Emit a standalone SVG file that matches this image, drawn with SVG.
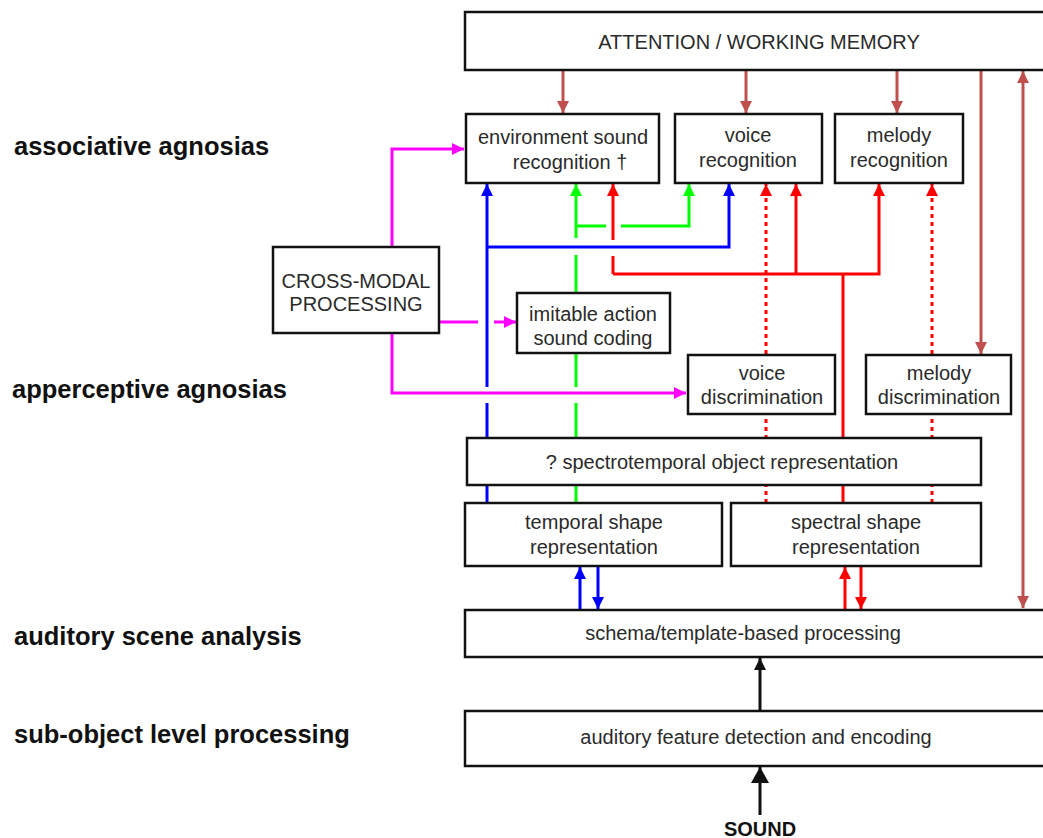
<svg xmlns="http://www.w3.org/2000/svg" width="1043" height="838" viewBox="0 0 1043 838">
<style>
.box{fill:#fff;stroke:#111;stroke-width:2.5}
.t{font-family:"Liberation Sans",Arial,sans-serif;font-size:20px;fill:#2a2a2a;text-anchor:middle}
.lbl{font-family:"Liberation Sans",Arial,sans-serif;font-size:25.5px;font-weight:bold;fill:#111}
.c{fill:none;stroke-width:3}
.br{stroke:#c0504d}
.bl{stroke:#0000ff}
.gr{stroke:#00ff00}
.rd{stroke:#ff0000}
.mg{stroke:#ff00ff}
.bk{stroke:#111}
.dot{stroke-dasharray:4,4}
</style>
<defs>
<marker id="aBr" markerUnits="userSpaceOnUse" markerWidth="12" markerHeight="12" refX="12" refY="6" orient="auto-start-reverse"><path d="M0,0 L12,6 L0,12z" fill="#c0504d"/></marker>
<marker id="aBl" markerUnits="userSpaceOnUse" markerWidth="12" markerHeight="12" refX="12" refY="6" orient="auto"><path d="M0,0 L12,6 L0,12z" fill="#0000ff"/></marker>
<marker id="aGr" markerUnits="userSpaceOnUse" markerWidth="12" markerHeight="12" refX="12" refY="6" orient="auto"><path d="M0,0 L12,6 L0,12z" fill="#00ff00"/></marker>
<marker id="aRd" markerUnits="userSpaceOnUse" markerWidth="12" markerHeight="12" refX="12" refY="6" orient="auto"><path d="M0,0 L12,6 L0,12z" fill="#ff0000"/></marker>
<marker id="aMg" markerUnits="userSpaceOnUse" markerWidth="12" markerHeight="12" refX="12" refY="6" orient="auto"><path d="M0,0 L12,6 L0,12z" fill="#ff00ff"/></marker>
<marker id="aBk" markerUnits="userSpaceOnUse" markerWidth="12" markerHeight="12" refX="12" refY="6" orient="auto"><path d="M0,0 L12,6 L0,12z" fill="#111"/></marker>
<marker id="aBkL" markerUnits="userSpaceOnUse" markerWidth="18" markerHeight="18" refX="16" refY="9" orient="auto"><path d="M0,0 L16,9 L0,18z" fill="#111"/></marker>
</defs>

<g id="connectors">
<path class="c br" d="M563,70 V113" marker-end="url(#aBr)"/>
<path class="c br" d="M746,70 V113" marker-end="url(#aBr)"/>
<path class="c br" d="M897,70 V113" marker-end="url(#aBr)"/>
<path class="c br" d="M981,70 V354" marker-end="url(#aBr)"/>
<path class="c br" d="M1023,71 V608" marker-start="url(#aBr)" marker-end="url(#aBr)"/>
<path class="c bl" d="M487,503 V403"/>
<path class="c bl" d="M487,387 V184" marker-end="url(#aBl)"/>
<path class="c bl" d="M487,247 H729 V184" marker-end="url(#aBl)"/>
<path class="c bl" d="M580,609 V567" marker-end="url(#aBl)"/>
<path class="c bl" d="M598,567 V609" marker-end="url(#aBl)"/>
<path class="c gr" d="M576,503 V403"/>
<path class="c gr" d="M576,387 V353"/>
<path class="c gr" d="M576,293 V255"/>
<path class="c gr" d="M576,238 V184" marker-end="url(#aGr)"/>
<path class="c gr" d="M576,226 H606"/>
<path class="c gr" d="M621,226 H689 V184" marker-end="url(#aGr)"/>
<path class="c rd" d="M613,274 V256"/>
<path class="c rd" d="M613,240 V184" marker-end="url(#aRd)"/>
<path class="c rd" d="M613,274 H879 V184" marker-end="url(#aRd)"/>
<path class="c rd" d="M796,274 V184" marker-end="url(#aRd)"/>
<path class="c rd" d="M843,274 V503"/>
<path class="c rd" d="M845,609 V567" marker-end="url(#aRd)"/>
<path class="c rd" d="M861,567 V609" marker-end="url(#aRd)"/>
<path class="c rd dot" d="M766,503 V414"/>
<path class="c rd dot" d="M766,354 V184" marker-end="url(#aRd)"/>
<path class="c rd dot" d="M932,503 V414"/>
<path class="c rd dot" d="M932,354 V184" marker-end="url(#aRd)"/>
<path class="c mg" d="M392,247 V149 H464" marker-end="url(#aMg)"/>
<path class="c mg" d="M440,322 H478"/>
<path class="c mg" d="M494,322 H516" marker-end="url(#aMg)"/>
<path class="c mg" d="M392,333 V393 H686" marker-end="url(#aMg)"/>
<path class="c bk" d="M760,710 V658" marker-end="url(#aBk)"/>
<path class="c bk" d="M760,815 V767" stroke-width="6" marker-end="url(#aBkL)"/>
</g>

<g id="attention"><rect class="box" x="465" y="12" width="590" height="58"/><text class="t" x="759" y="49">ATTENTION / WORKING MEMORY</text></g>
<g id="env-sound"><rect class="box" x="466" y="114" width="193" height="69"/><text class="t" x="563" y="144">environment sound</text><text class="t" x="570" y="169">recognition  †</text></g>
<g id="voice-rec"><rect class="box" x="675" y="114" width="147" height="69"/><text class="t" x="748" y="142">voice</text><text class="t" x="748" y="167">recognition</text></g>
<g id="melody-rec"><rect class="box" x="835" y="114" width="128" height="69"/><text class="t" x="899" y="142">melody</text><text class="t" x="899" y="167">recognition</text></g>
<g id="cross-modal"><rect class="box" x="273" y="247" width="166" height="86"/><text class="t" x="356" y="288">CROSS-MODAL</text><text class="t" x="356" y="311">PROCESSING</text></g>
<g id="imitable"><rect class="box" x="517" y="293" width="153" height="60"/><text class="t" x="593" y="321">imitable action</text><text class="t" x="593" y="345">sound coding</text></g>
<g id="voice-disc"><rect class="box" x="688" y="355" width="147" height="59"/><text class="t" x="762" y="380">voice</text><text class="t" x="762" y="404">discrimination</text></g>
<g id="melody-disc"><rect class="box" x="866" y="355" width="145" height="59"/><text class="t" x="939" y="380">melody</text><text class="t" x="939" y="404">discrimination</text></g>
<g id="spectrotemporal"><rect class="box" x="467" y="438" width="514" height="47"/><text class="t" x="722" y="469">? spectrotemporal object representation</text></g>
<g id="temporal"><rect class="box" x="465" y="503" width="257" height="63"/><text class="t" x="594" y="529">temporal shape</text><text class="t" x="594" y="554">representation</text></g>
<g id="spectral"><rect class="box" x="731" y="503" width="250" height="63"/><text class="t" x="856" y="529">spectral shape</text><text class="t" x="856" y="554">representation</text></g>
<g id="schema"><rect class="box" x="465" y="610" width="590" height="47"/><text class="t" x="743" y="640">schema/template-based processing</text></g>
<g id="feature"><rect class="box" x="465" y="711" width="590" height="55"/><text class="t" x="756" y="744">auditory feature detection and encoding</text></g>
<g id="sound"><text class="t" x="760" y="836" style="font-weight:bold;fill:#111">SOUND</text></g>

<g id="labels">
<text class="lbl" x="14" y="155">associative agnosias</text>
<text class="lbl" x="12" y="398">apperceptive agnosias</text>
<text class="lbl" x="14" y="645">auditory scene analysis</text>
<text class="lbl" x="14" y="743">sub-object level processing</text>
</g>
</svg>
